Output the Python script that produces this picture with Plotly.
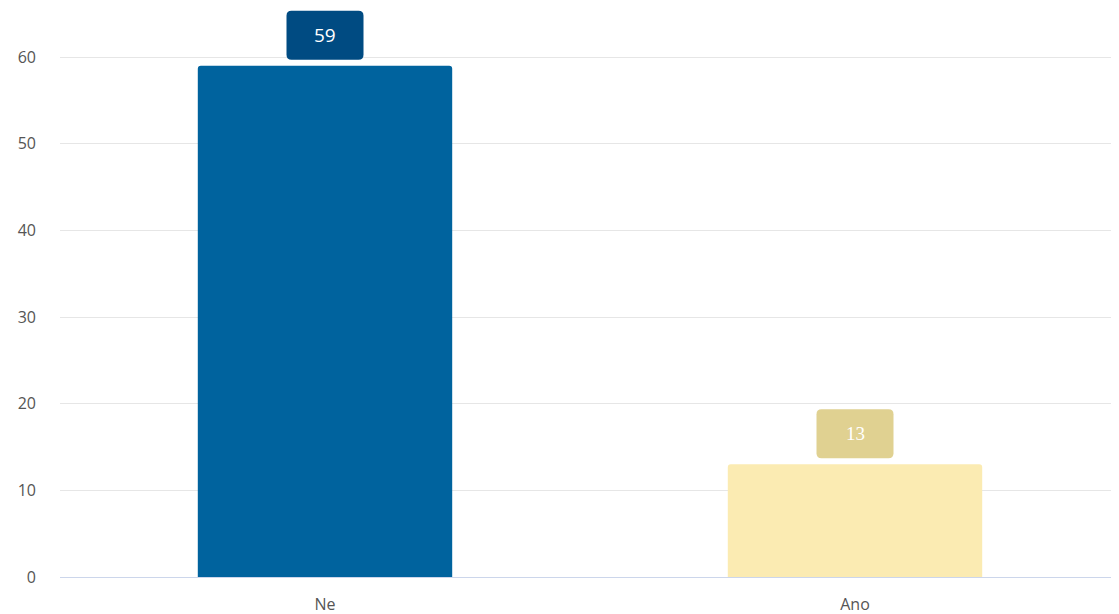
import plotly.graph_objects as go

categories = ["Ne", "Ano"]
values = [59, 13]
bar_colors = ["#00639e", "#fbebb2"]
label_colors = ["#004b82", "#e0d191"]
label_fonts = ["Open Sans", "Liberation Serif"]
y_ticks = [0, 10, 20, 30, 40, 50, 60]

# label box geometry in pixels (relative to bar top)
BW, BH, GAP, R = 77, 49, 6, 5

FIG_W, FIG_H = 1111, 606
ML, MB = 52, 37
PX_PER_CAT = 530
PX_PER_UNIT = 520 / 60


def rounded_box_path(w, h, gap, r):
    x0, x1 = -w / 2, w / 2
    y0, y1 = gap, gap + h
    return (
        f"M {x0 + r} {y0} L {x1 - r} {y0} Q {x1} {y0} {x1} {y0 + r} "
        f"L {x1} {y1 - r} Q {x1} {y1} {x1 - r} {y1} "
        f"L {x0 + r} {y1} Q {x0} {y1} {x0} {y1 - r} "
        f"L {x0} {y0 + r} Q {x0} {y0} {x0 + r} {y0} Z"
    )


fig = go.Figure()
fig.add_trace(go.Bar(
    x=list(range(len(categories))), y=values,
    marker=dict(color=bar_colors, line=dict(width=0)),
    width=0.48,
    hoverinfo="skip",
))

for i, (v, lc, lf) in enumerate(zip(values, label_colors, label_fonts)):
    fig.add_shape(
        type="path", xref="x", yref="y",
        xsizemode="pixel", ysizemode="pixel",
        xanchor=i, yanchor=v,
        path=rounded_box_path(BW, BH, GAP, R),
        fillcolor=lc, line=dict(width=0), layer="above",
    )
    fig.add_annotation(
        x=i, y=v, text=str(v), showarrow=False,
        yanchor="middle", yshift=GAP + BH / 2,
        font=dict(color="#ffffff", size=19, family=lf),
    )

fig.update_layout(
    width=FIG_W, height=FIG_H,
    margin=dict(l=ML, r=0, t=0, b=MB),
    paper_bgcolor="#ffffff", plot_bgcolor="#ffffff",
    showlegend=False,
    barcornerradius=3,
    font=dict(family="Open Sans", color="#666666", size=16),
    xaxis=dict(
        range=[-0.5, -0.5 + (FIG_W - ML) / PX_PER_CAT], showgrid=False, showline=True,
        linecolor="#ccd6eb", linewidth=1, ticks="", automargin=False,
        tickvals=list(range(len(categories))), ticktext=categories,
        ticklabelstandoff=13, tickfont=dict(size=16, color="#555555"),
    ),
    yaxis=dict(
        range=[0, (FIG_H - MB) / PX_PER_UNIT], tickvals=y_ticks, showgrid=True,
        gridcolor="#e6e6e6", gridwidth=1, zeroline=False, automargin=False,
        ticklabelstandoff=23, tickfont=dict(size=16, color="#555555"),
    ),
)

fig.write_html("out.html")
